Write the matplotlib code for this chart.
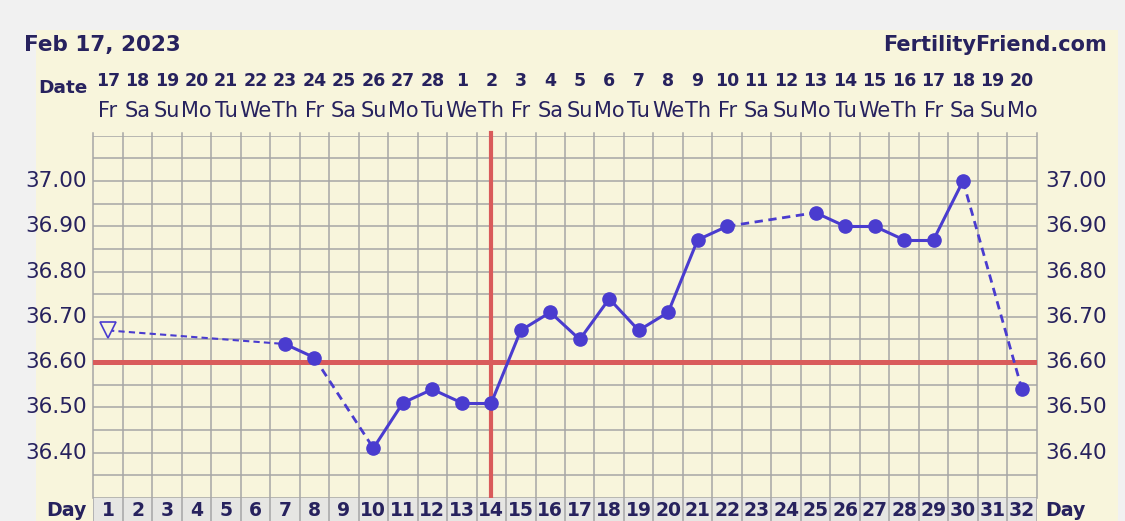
import matplotlib.pyplot as plt
from matplotlib.patches import Rectangle
import matplotlib.transforms as mtransforms

# chart data
cycle_days = list(range(1, 33))
dates = ["17", "18", "19", "20", "21", "22", "23", "24", "25", "26", "27", "28",
         "1", "2", "3", "4", "5", "6", "7", "8", "9", "10", "11", "12", "13",
         "14", "15", "16", "17", "18", "19", "20"]
weekdays = ["Fr", "Sa", "Su", "Mo", "Tu", "We", "Th"] * 4 + ["Fr", "Sa", "Su", "Mo"]

temp_days = [1, 7, 8, 10, 11, 12, 13, 14, 15, 16, 17, 18, 19, 20, 21, 22,
             25, 26, 27, 28, 29, 30, 32]
temps = [36.67, 36.64, 36.61, 36.41, 36.51, 36.54, 36.51, 36.51, 36.67, 36.71,
         36.65, 36.74, 36.67, 36.71, 36.87, 36.90, 36.93, 36.90, 36.90, 36.87,
         36.87, 37.00, 36.54]
y_ticks = [36.40, 36.50, 36.60, 36.70, 36.80, 36.90, 37.00]
coverline = 36.60
ovulation_day = 14
chart_date = "Feb 17, 2023"
site = "FertilityFriend.com"

navy = "#27225e"
purple = "#4a3ccf"
red = "#d95b5b"
gridc = "#a6a6a6"
cream = "#f8f5dc"

W, H = 1125, 521
fig = plt.figure(figsize=(W / 100, H / 100), dpi=100, facecolor="#f1f1f1")
fig.patches.append(Rectangle((36 / W, 0), (1118 - 36) / W, (H - 30) / H,
                             transform=fig.transFigure, facecolor=cream,
                             edgecolor="none", zorder=-5))

left, right, top, bottom = 93.3, 1036.7, 135.7, 498
ax = fig.add_axes([left / W, 1 - bottom / H, (right - left) / W, (bottom - top) / H])
ax.set_facecolor(cream)
ax.set_xlim(0.5, 32.5)
ax.set_ylim(36.30, 37.10)
for s in ax.spines.values():
    s.set_visible(False)
ax.set_xticks([])
ax.set_yticks([])

# grid
for i in range(17):
    ax.axhline(36.30 + i * 0.05, color=gridc, lw=1.1, zorder=1)
for d in range(33):
    ax.plot([d + 0.5, d + 0.5], [36.30, 37.105], color=gridc, lw=1.1, zorder=1,
            clip_on=False)

# coverline and ovulation line
ax.axhline(coverline, color=red, lw=3.6, zorder=2)
ax.plot([ovulation_day, ovulation_day], [36.30, 37.106], color=red, lw=3.0,
        zorder=2, clip_on=False)

# temperature line: solid between consecutive days, dashed across gaps
for i in range(len(temp_days) - 1):
    d0, d1 = temp_days[i], temp_days[i + 1]
    if d1 - d0 == 1:
        ax.plot([d0, d1], [temps[i], temps[i + 1]], color=purple, lw=2.2, zorder=3)
    else:
        lw = 1.5 if i == 0 else 2.0
        ax.plot([d0, d1], [temps[i], temps[i + 1]], color=purple, lw=lw,
                ls=(0, (3, 2)), zorder=3)
ax.plot(temp_days[1:], temps[1:], ls="none", marker="o", ms=9.5, color=purple, zorder=4)
ax.plot(temp_days[:1], temps[:1], ls="none", marker="v", ms=12, mfc=cream,
        mec=purple, mew=1.2, zorder=4)

# y labels on both sides
ytrans = mtransforms.blended_transform_factory(fig.transFigure, ax.transData)
for v in y_ticks:
    fig.text(87 / W, v, f"{v:.2f}", transform=ytrans, ha="right", va="center",
             fontsize=15.5, color=navy)
    fig.text(1045 / W, v, f"{v:.2f}", transform=ytrans, ha="left", va="center",
             fontsize=15.5, color=navy)

# date and weekday rows
xtrans = mtransforms.blended_transform_factory(ax.transData, fig.transFigure)
for d, dt, wd in zip(cycle_days, dates, weekdays):
    fig.text(d, 1 - 81 / H, dt, transform=xtrans, ha="center", va="center",
             fontsize=12.5, fontweight="bold", color=navy)
    fig.text(d, 1 - 111 / H, wd, transform=xtrans, ha="center", va="center",
             fontsize=15, color=navy)

# day row
dax = fig.add_axes([left / W, 0, (right - left) / W, (H - bottom) / H])
dax.set_xlim(0.5, 32.5)
dax.set_ylim(0, 1)
dax.axis("off")
dax.add_patch(Rectangle((0.5, 0), 32, 1, facecolor="#e6e6e3", edgecolor="none"))
for d in range(33):
    dax.axvline(d + 0.5, color=gridc, lw=1.1)
for d in cycle_days:
    dax.text(d, 0.45, str(d), ha="center", va="center", fontsize=13.5,
             fontweight="bold", color=navy)

fig.text(87 / W, 1 - 510 / H, "Day", ha="right", va="center", fontsize=13.7,
         fontweight="bold", color=navy)
fig.text(1045 / W, 1 - 510 / H, "Day", ha="left", va="center", fontsize=13.7,
         fontweight="bold", color=navy)
fig.text(87 / W, 1 - 88 / H, "Date", ha="right", va="center", fontsize=13.3,
         fontweight="bold", color=navy)

# header
fig.text(24 / W, 1 - 45 / H, chart_date, ha="left", va="center", fontsize=15.5,
         fontweight="bold", color=navy)
fig.text(1107 / W, 1 - 45 / H, site, ha="right", va="center", fontsize=15,
         fontweight="bold", color=navy)

fig.savefig("out.png", dpi=100, facecolor=fig.get_facecolor())
